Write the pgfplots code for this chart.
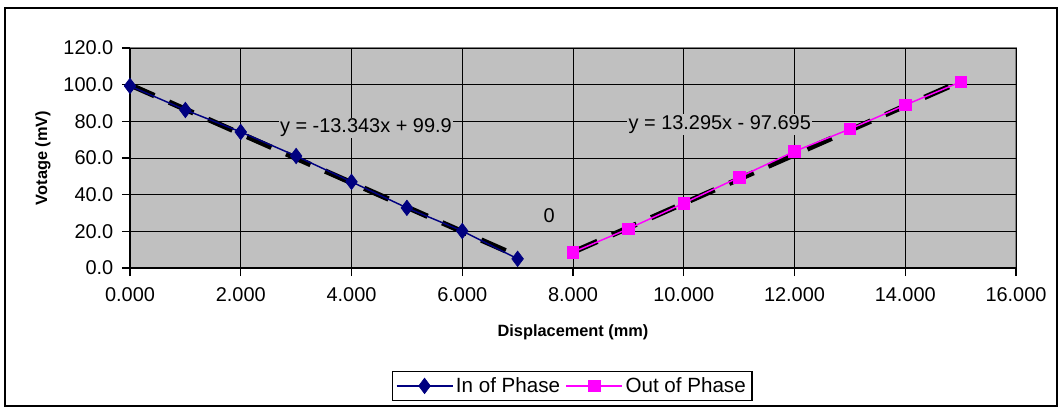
\documentclass[border=0pt]{standalone}
\usepackage{pgfplots}
\pgfplotsset{compat=1.18}
\usepackage{fontspec}
\setmainfont{Liberation Sans}
\definecolor{plotbg}{RGB}{192,192,192}
\definecolor{navy}{RGB}{0,0,128}
\definecolor{mag}{RGB}{255,0,255}
\begin{document}
\begin{tikzpicture}
\begin{axis}[%
width=664.5bp,
height=165bp,
scale only axis,
xmin=0, xmax=16,
ymin=0, ymax=120,
xtick={0,2,...,16},
ytick={0,20,...,120},
axis lines=left,
axis line style={-, black, line width=1.3pt},
tick align=outside,
major tick length=6bp,
tick style={black, line width=1.1pt},
grid=major,
major grid style={black, line width=0.7pt},
axis background/.style={fill=plotbg, draw=gray, line width=1.3pt},
clip=false,
/pgf/number format/assume math mode=true,
xticklabel style={/pgf/number format/fixed, /pgf/number format/fixed zerofill, /pgf/number format/precision=3, yshift=-5bp},
yticklabel style={/pgf/number format/fixed, /pgf/number format/fixed zerofill, /pgf/number format/precision=1, xshift=-3bp},
ticklabel style={font=\fontsize{15}{17}\selectfont},
xlabel={\textbf{Displacement (mm)}},
ylabel={\textbf{Votage (mV)}},
label style={font=\fontsize{12.3}{14}\selectfont},
xlabel style={at={(axis description cs:0.5,-0.291)}, anchor=center},
ylabel style={at={(axis description cs:-0.0982,0.5)}, anchor=center},
legend columns=2,
legend style={at={(axis description cs:0.499,-0.536)}, anchor=center,
  draw=black, line width=1.3pt, font=\fontsize{15.5}{18}\selectfont,
  inner sep=2.5bp, /tikz/every even column/.append style={column sep=2bp}},
legend image code/.code={\draw[mark repeat=2, mark phase=2, #1] plot coordinates {(0bp,0bp) (21bp,0bp) (42bp,0bp)};},
legend cell align=left,
]
% trend lines (from the fitted equations)
\addplot[forget plot, black, line width=4bp, dash pattern=on 20bp off 12bp] coordinates {(0,99.9) (7,6.499)};
\addplot[forget plot, black, line width=4bp, dash pattern=on 20bp off 12bp] coordinates {(8,8.665) (15,101.73)};
\addplot[navy, line width=1.1pt, mark=diamond*, mark size=5.8bp, mark options={fill=navy, draw=navy, line width=0.5pt}] coordinates {
(0,99.3) (1,86.2) (2,74.2) (3,61.1) (4,47.0) (5,32.8) (6,20.2) (7,5.0)
};
\addlegendentry{In of Phase}
\addplot[mag, line width=1.1pt, mark=square*, mark size=4.3bp, mark options={fill=mag, draw=mag, line width=0.5pt}] coordinates {
(8,8.6) (9,21.4) (10,35.3) (11,49.5) (12,63.6) (13,75.8) (14,88.9) (15,101.5)
};
\addlegendentry{Out of Phase}
\node[fill=plotbg, inner sep=1bp, font=\fontsize{15}{17}\selectfont] at (axis cs:4.26,76.4) {y = -13.343x + 99.9};
\node[fill=plotbg, inner sep=1bp, font=\fontsize{15}{17}\selectfont] at (axis cs:10.65,78.2) {y = 13.295x - 97.695};
\node[font=\fontsize{15}{17}\selectfont] at (axis cs:7.57,28.5) {0};
\end{axis}
\draw[line width=1.1bp] (-93.75bp,-103.5bp) rectangle (695.25bp,195bp);
\useasboundingbox (-97.5bp,-108bp) rectangle (699.75bp,201bp);
\end{tikzpicture}
\end{document}
